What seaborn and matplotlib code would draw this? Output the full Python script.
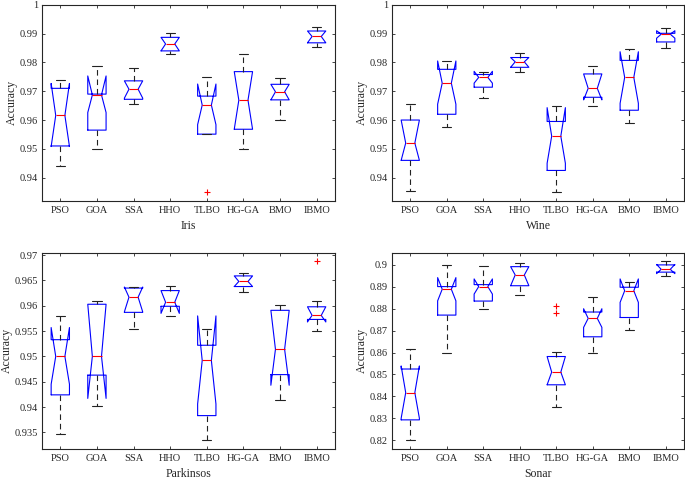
import matplotlib
matplotlib.use("Agg")
import matplotlib.pyplot as plt
from matplotlib.ticker import FuncFormatter
import seaborn as sns

# ──────────────────────────────────────────────
# DATA (box summaries)
# ──────────────────────────────────────────────
methods = ["PSO", "GOA", "SSA", "HHO", "TLBO", "HG-GA", "BMO", "IBMO"]

# Iris
iris_lo  = [0.9442, 0.9499, 0.9655, 0.9829, 0.9551, 0.9499, 0.9601, 0.9853]
iris_q1  = [0.9510, 0.9565, 0.9672, 0.9840, 0.9551, 0.9568, 0.9670, 0.9868]
iris_med = [0.9616, 0.9687, 0.9707, 0.9864, 0.9652, 0.9669, 0.9698, 0.9890]
iris_q3  = [0.9710, 0.9690, 0.9736, 0.9887, 0.9683, 0.9768, 0.9724, 0.9909]
iris_hi  = [0.9740, 0.9788, 0.9780, 0.9901, 0.9751, 0.9829, 0.9747, 0.9924]
iris_nlo = [0.9508, 0.9626, 0.9676, 0.9840, 0.9584, 0.9568, 0.9670, 0.9868]
iris_nhi = [0.9727, 0.9753, 0.9736, 0.9887, 0.9725, 0.9768, 0.9724, 0.9909]
iris_out = [[], [], [], [], [0.9350], [], [], []]

# Wine
wine_lo  = [0.9354, 0.9576, 0.9675, 0.9765, 0.9350, 0.9649, 0.9588, 0.9851]
wine_q1  = [0.9460, 0.9620, 0.9714, 0.9783, 0.9425, 0.9679, 0.9634, 0.9871]
wine_med = [0.9520, 0.9728, 0.9748, 0.9802, 0.9544, 0.9710, 0.9748, 0.9898]
wine_q3  = [0.9600, 0.9776, 0.9758, 0.9817, 0.9595, 0.9760, 0.9807, 0.9901]
wine_hi  = [0.9655, 0.9806, 0.9768, 0.9833, 0.9650, 0.9789, 0.9847, 0.9918]
wine_nlo = [0.9460, 0.9655, 0.9728, 0.9783, 0.9450, 0.9670, 0.9658, 0.9884]
wine_nhi = [0.9600, 0.9805, 0.9769, 0.9817, 0.9643, 0.9760, 0.9837, 0.9910]
wine_out = [[], [], [], [], [], [], [], []]

# Parkinsons
park_lo  = [0.9346, 0.9402, 0.9555, 0.9580, 0.9334, 0.9628, 0.9414, 0.9551]
park_q1  = [0.9424, 0.9463, 0.9587, 0.9599, 0.9383, 0.9638, 0.9464, 0.9573]
park_med = [0.9500, 0.9500, 0.9617, 0.9607, 0.9492, 0.9648, 0.9514, 0.9581]
park_q3  = [0.9533, 0.9603, 0.9635, 0.9630, 0.9522, 0.9659, 0.9591, 0.9598]
park_hi  = [0.9579, 0.9610, 0.9638, 0.9640, 0.9554, 0.9664, 0.9602, 0.9610]
park_nlo = [0.9445, 0.9417, 0.9588, 0.9585, 0.9406, 0.9638, 0.9443, 0.9568]
park_nhi = [0.9557, 0.9603, 0.9637, 0.9630, 0.9580, 0.9659, 0.9591, 0.9598]
park_out = [[], [], [], [], [], [], [], [0.9688]]

# Sonar
sonar_lo  = [0.8200, 0.8600, 0.8800, 0.8864, 0.8353, 0.8600, 0.8702, 0.8951]
sonar_q1  = [0.8293, 0.8771, 0.8835, 0.8905, 0.8453, 0.8672, 0.8760, 0.8967]
sonar_med = [0.8417, 0.8889, 0.8901, 0.8954, 0.8511, 0.8756, 0.8882, 0.8980]
sonar_q3  = [0.8525, 0.8901, 0.8910, 0.8992, 0.8582, 0.8785, 0.8898, 0.9000]
sonar_hi  = [0.8618, 0.9000, 0.8997, 0.9009, 0.8602, 0.8853, 0.8921, 0.9018]
sonar_nlo = [0.8300, 0.8836, 0.8867, 0.8905, 0.8453, 0.8715, 0.8829, 0.8960]
sonar_nhi = [0.8539, 0.8942, 0.8936, 0.8992, 0.8582, 0.8800, 0.8936, 0.9002]
sonar_out = [[], [], [], [], [0.8811, 0.8782], [], [], []]


def box_stats(lo, q1, med, q3, hi, nlo, nhi, out):
    return [
        dict(whislo=a, q1=b, med=c, q3=d, whishi=e, cilo=f, cihi=g, fliers=h)
        for a, b, c, d, e, f, g, h in zip(lo, q1, med, q3, hi, nlo, nhi, out)
    ]


# ──────────────────────────────────────────────
# STYLE
# ──────────────────────────────────────────────
sns.set_theme(style="ticks")
plt.rcParams["font.family"] = ["Liberation Serif", "DejaVu Serif"]
plt.rcParams.update({
    "axes.edgecolor": "#262626",
    "axes.linewidth": 0.8,
    "xtick.direction": "in",
    "ytick.direction": "in",
    "xtick.top": True,
    "ytick.right": True,
    "xtick.major.size": 2.5,
    "ytick.major.size": 2.5,
    "xtick.major.width": 0.6,
    "ytick.major.width": 0.6,
    "xtick.color": "#262626",
    "ytick.color": "#262626",
    "xtick.labelsize": 7.5,
    "ytick.labelsize": 7.5,
})

panels = [
    ("Iris", box_stats(iris_lo, iris_q1, iris_med, iris_q3, iris_hi, iris_nlo, iris_nhi, iris_out),
     (0.932, 1.0), [0.94, 0.95, 0.96, 0.97, 0.98, 0.99, 1.0],
     [0.0613, 0.581, 0.4277, 0.409]),
    ("Wine", box_stats(wine_lo, wine_q1, wine_med, wine_q3, wine_hi, wine_nlo, wine_nhi, wine_out),
     (0.932, 1.0), [0.94, 0.95, 0.96, 0.97, 0.98, 0.99, 1.0],
     [0.5723, 0.581, 0.4262, 0.409]),
    ("Parkinsos", box_stats(park_lo, park_q1, park_med, park_q3, park_hi, park_nlo, park_nhi, park_out),
     (0.9317, 0.9705), [0.935, 0.94, 0.945, 0.95, 0.955, 0.96, 0.965, 0.97],
     [0.0613, 0.0626, 0.4277, 0.410]),
    ("Sonar", box_stats(sonar_lo, sonar_q1, sonar_med, sonar_q3, sonar_hi, sonar_nlo, sonar_nhi, sonar_out),
     (0.816, 0.9056), [0.82, 0.83, 0.84, 0.85, 0.86, 0.87, 0.88, 0.89, 0.9],
     [0.5723, 0.0626, 0.4262, 0.410]),
]

fig = plt.figure(figsize=(6.85, 4.79), dpi=100)
fig.patch.set_facecolor("white")

for name, stats, ylim, yticks, rect in panels:
    ax = fig.add_axes(rect)
    ax.set_facecolor("white")
    ax.bxp(
        stats,
        positions=range(1, len(methods) + 1),
        widths=0.5,
        shownotches=True,
        showfliers=True,
        manage_ticks=False,
        boxprops=dict(color="#0000ff", linewidth=0.8),
        medianprops=dict(color="#ff0000", linewidth=0.8),
        whiskerprops=dict(color="#222222", linewidth=0.8, linestyle=(0, (5, 3.5))),
        capprops=dict(color="#222222", linewidth=0.8),
        flierprops=dict(marker="+", markeredgecolor="#ff0000", markersize=5,
                        markeredgewidth=0.8, linestyle="none"),
    )
    ax.set_xlim(0.5, len(methods) + 0.5)
    ax.set_xticks(range(1, len(methods) + 1))
    ax.set_xticklabels(methods)
    ax.set_ylim(*ylim)
    ax.set_yticks(yticks)
    ax.yaxis.set_major_formatter(FuncFormatter(lambda v, p: f"{v:g}"))
    ax.tick_params(axis="y", pad=3)
    ax.set_xlabel(name, fontsize=8.5, labelpad=4)
    ax.set_ylabel("Accuracy", fontsize=8.5, labelpad=1)
    ax.grid(False)
    for s in ax.spines.values():
        s.set_visible(True)

fig.savefig("out.png", dpi=100, facecolor="white")
